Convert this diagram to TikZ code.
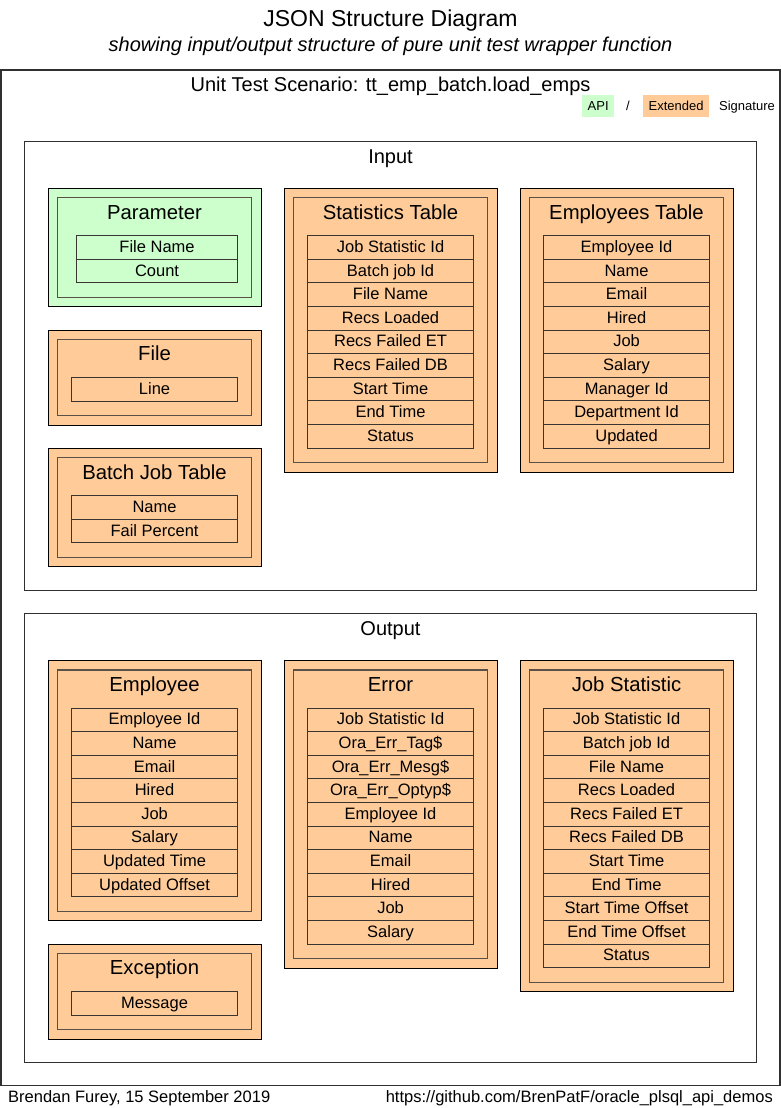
\documentclass[tikz,border=0pt]{standalone}
\usepackage{fontspec}
\setmainfont{Liberation Sans}
\definecolor{apigreen}{HTML}{CCFFCC}
\definecolor{extorange}{HTML}{FFCC99}
\definecolor{innerline}{HTML}{5A5048}
\definecolor{rowline}{HTML}{3A3530}
\definecolor{frameline}{HTML}{303030}
\newcommand{\fsz}[1]{\fontsize{#1}{#1}\selectfont}
\tikzset{
  frame/.style={draw=frameline, line width=1.1pt, inner sep=0pt, outer sep=0pt, anchor=north west},
  outerbox/.style={draw=black, line width=0.9pt, inner sep=0pt, outer sep=0pt, anchor=north west},
  innerbox/.style={draw=innerline, line width=1.3pt, inner sep=0pt, outer sep=0pt, anchor=north west},
  fieldrow/.style={draw=rowline, line width=1pt, inner sep=0pt, outer sep=0pt, anchor=north west,
    minimum height=23.6pt, text height=11.8pt, text depth=2pt, align=center, font=\fsz{16.5}},
  tabletitle/.style={inner sep=0pt, anchor=base, font=\fsz{20.3}},
  heading/.style={inner sep=0pt, anchor=base, font=\fsz{20}},
  legbox/.style={inner sep=0pt, outer sep=0pt, anchor=north west, minimum height=22.3pt, font=\fsz{13}},
  legtext/.style={inner sep=0pt, anchor=base, font=\fsz{13}},
  foot/.style={inner sep=0pt, font=\fsz{16.5}}
}
% #1 id, #2 x, #3 y, #4 rows, #5 fill, #6 title, #7 field inset, #8 fields
\newcommand{\jsontable}[8]{%
  \pgfmathsetmacro\tbh{71.4+23.6*#4}%
  \pgfmathsetmacro\inh{\tbh-18.6}%
  \pgfmathsetmacro\fw{189.4-#7}%
  \node[outerbox, fill=#5, minimum width=213pt, minimum height=\tbh pt] (#1) at (#2,#3) {};
  \node[innerbox, minimum width=194.4pt, minimum height=\inh pt] (#1-in) at (#2+9.3,#3+9.3) {};
  \node[tabletitle] (#1-t) at (#2+106.5,#3+30.7) {#6};
  \foreach \f [count=\i] in {#8} {
    \node[fieldrow, minimum width=\fw pt] (#1-\i) at (#2+#7,#3+47.4+23.6*\i-23.6) {\f};
  }
}
\begin{document}
\begin{tikzpicture}[x=1pt,y=-1pt]
\useasboundingbox (0,0) rectangle (781,1108);
\fill[white] (0,0) rectangle (781,1108);
% titles
\node[inner sep=0pt, anchor=base, font=\fsz{23}] (title) at (390.5,27) {JSON Structure Diagram};
\node[inner sep=0pt, anchor=base, font=\fsz{20}\itshape] (subtitle) at (390.5,52) {showing input/output structure of pure unit test wrapper function};
% main frame
\node[frame, minimum width=779pt, minimum height=1015.5pt] (scenario) at (1,70) {};
\node[heading] (scenariot) at (390.5,92) {Unit Test Scenario: tt\_emp\_batch.load\_emps};
% legend
\node[legbox, fill=apigreen, minimum width=32.3pt] (api) at (582,95) {API};
\node[legtext] (slash) at (628,110) {/};
\node[legbox, fill=extorange, minimum width=65.7pt] (ext) at (643.3,95) {Extended};
\node[legtext] (sig) at (747,110) {Signature};
% input group
\node[frame, line width=0.9pt, minimum width=732.4pt, minimum height=449pt] (input) at (24.3,141) {};
\node[heading] (inputt) at (390.5,163) {Input};
\jsontable{param}{48}{188.3}{2}{apigreen}{Parameter}{28.7}{File Name,Count}
\jsontable{file}{48}{330}{1}{extorange}{File}{23.7}{Line}
\jsontable{batch}{48}{448.3}{2}{extorange}{Batch Job Table}{23.7}{Name,Fail Percent}
\jsontable{stats}{284}{188.3}{9}{extorange}{Statistics Table}{23.7}{Job Statistic Id,Batch job Id,File Name,Recs Loaded,Recs Failed ET,Recs Failed DB,Start Time,End Time,Status}
\jsontable{emps}{520}{188.3}{9}{extorange}{Employees Table}{23.7}{Employee Id,Name,Email,Hired,Job,Salary,Manager Id,Department Id,Updated}
% output group
\node[frame, line width=0.9pt, minimum width=732.4pt, minimum height=448.7pt] (output) at (24.3,613.3) {};
\node[heading] (outputt) at (390.5,635) {Output};
\jsontable{emp}{48}{660.7}{8}{extorange}{Employee}{23.7}{Employee Id,Name,Email,Hired,Job,Salary,Updated Time,Updated Offset}
\jsontable{exc}{48}{944}{1}{extorange}{Exception}{23.7}{Message}
\jsontable{err}{284}{660.7}{10}{extorange}{Error}{23.7}{Job Statistic Id,Ora\_Err\_Tag\$,Ora\_Err\_Mesg\$,Ora\_Err\_Optyp\$,Employee Id,Name,Email,Hired,Job,Salary}
\jsontable{jstat}{520}{660.7}{11}{extorange}{Job Statistic}{23.7}{Job Statistic Id,Batch job Id,File Name,Recs Loaded,Recs Failed ET,Recs Failed DB,Start Time,End Time,Start Time Offset,End Time Offset,Status}
% footer
\node[foot, anchor=base west] (author) at (8,1102) {Brendan Furey, 15 September 2019};
\node[foot, anchor=base east] (url) at (773,1102) {https://github.com/BrenPatF/oracle\_plsql\_api\_demos};
\end{tikzpicture}
\end{document}
